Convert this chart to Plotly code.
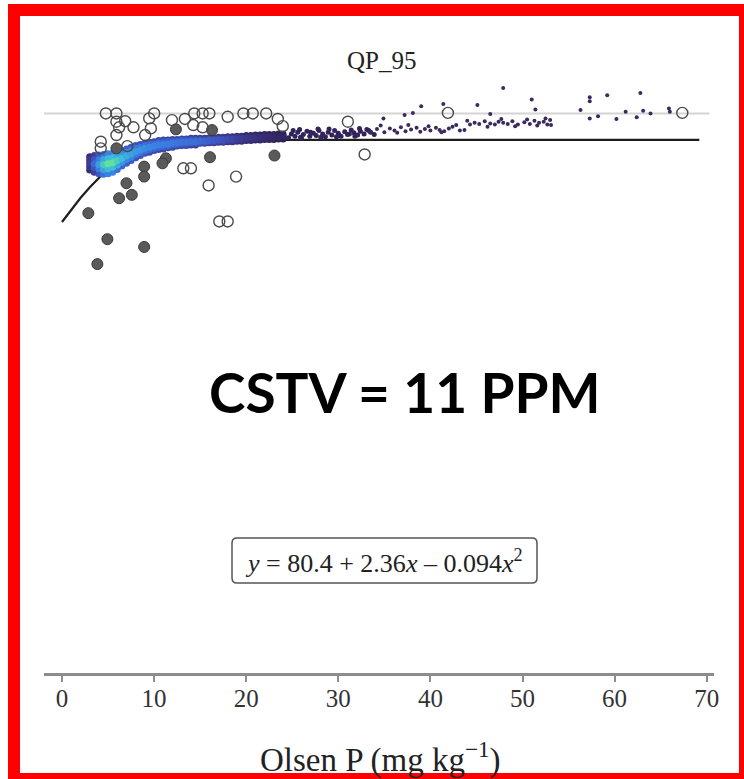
import plotly.graph_objects as go

# ---------------- data ----------------
title_text = "QP_95"
x_title = "Olsen P (mg kg<sup>−1</sup>)"
equation = "<i>y</i> = 80.4 + 2.36<i>x</i> – 0.094<i>x</i><sup>2</sup>"
cstv_text = "CSTV = 11 PPM"
tick_vals = [0, 10, 20, 30, 40, 50, 60, 70]
tick_text = ["0", "10", "20", "30", "40", "50", "60", "70"]

# fitted quadratic-plateau curve (values of the printed equation, plateau 95.2)
fit_x = [0, 1, 2, 3, 4, 5, 6, 7, 8, 9, 10, 11, 12, 12.55, 69.2]
fit_y = [80.40, 82.67, 84.74, 86.63, 88.34, 89.85, 91.18, 92.31, 93.26, 94.03,
         94.60, 94.99, 95.18, 95.21, 95.21]

ref_level = 100.0
ref_x = [-1.95, 70.3]

# dense (bootstrap) cloud, five rows per column, with relative point density
band_x = [3.0, 3.5, 4.0, 4.5, 5.0, 5.5, 6.0, 6.5, 7.0, 7.5,
          8.0, 8.5, 9.0, 9.5, 10.0, 10.5, 11.0, 11.5, 12.0, 12.5,
          13.0, 13.5, 14.0, 14.5, 15.0, 15.5, 16.0, 16.5, 17.0, 17.5,
          18.0, 18.5, 19.0, 19.5, 20.0, 20.5, 21.0, 21.5, 22.0, 22.5,
          23.0, 23.5, 24.0]
band_lo = [89.8, 89.4, 89.1, 89.0, 89.1, 89.4, 89.9, 90.5, 91.0, 91.5,
           92.0, 92.4, 92.8, 93.0, 93.3, 93.5, 93.6, 93.8, 93.9, 94.1,
           94.2, 94.2, 94.3, 94.3, 94.6, 94.6, 94.7, 94.7, 94.8, 94.8,
           94.9, 94.9, 95.0, 95.0, 95.1, 95.1, 95.2, 95.2, 95.3, 95.3,
           95.3, 95.4, 95.4]
band_r2 = [90.4, 90.2, 90.0, 89.9, 90.0, 90.3, 90.7, 91.2, 91.7, 92.1,
           92.6, 92.9, 93.2, 93.5, 93.7, 93.9, 94.0, 94.1, 94.3, 94.4,
           94.5, 94.5, 94.6, 94.6, 94.8, 94.8, 94.9, 94.9, 95.0, 95.0,
           95.1, 95.1, 95.2, 95.2, 95.3, 95.3, 95.4, 95.4, 95.5, 95.5,
           95.5, 95.6, 95.6]
band_mid = [91.0, 90.9, 90.8, 90.8, 90.9, 91.1, 91.5, 91.9, 92.3, 92.7,
            93.1, 93.4, 93.7, 93.9, 94.1, 94.3, 94.4, 94.5, 94.6, 94.7,
            94.8, 94.8, 94.9, 94.9, 95.0, 95.0, 95.1, 95.1, 95.2, 95.2,
            95.3, 95.3, 95.4, 95.4, 95.5, 95.5, 95.6, 95.6, 95.7, 95.7,
            95.7, 95.8, 95.8]
band_r4 = [91.6, 91.7, 91.6, 91.7, 91.8, 92.0, 92.3, 92.6, 93.0, 93.3,
           93.7, 93.9, 94.2, 94.4, 94.5, 94.7, 94.8, 94.9, 95.0, 95.0,
           95.1, 95.1, 95.2, 95.2, 95.2, 95.2, 95.3, 95.3, 95.4, 95.4,
           95.5, 95.5, 95.6, 95.6, 95.7, 95.7, 95.8, 95.8, 95.9, 95.9,
           95.9, 96.0, 96.0]
band_hi = [92.2, 92.4, 92.5, 92.6, 92.7, 92.8, 93.1, 93.3, 93.6, 93.9,
           94.2, 94.4, 94.6, 94.8, 94.9, 95.1, 95.2, 95.2, 95.3, 95.3,
           95.4, 95.4, 95.5, 95.5, 95.5, 95.5, 95.6, 95.6, 95.7, 95.7,
           95.8, 95.8, 95.9, 95.9, 96.0, 96.0, 96.1, 96.1, 96.2, 96.2,
           96.2, 96.3, 96.3]
band_dens = [0.3, 0.5, 0.7, 0.88, 1.0, 1.0, 0.9, 0.82, 0.76, 0.72,
             0.68, 0.66, 0.64, 0.62, 0.6, 0.59, 0.58, 0.57, 0.56, 0.55,
             0.54, 0.53, 0.52, 0.51, 0.5, 0.48, 0.46, 0.44, 0.42, 0.4,
             0.37, 0.34, 0.31, 0.28, 0.25, 0.23, 0.21, 0.19, 0.17, 0.15,
             0.13, 0.11, 0.1]

# thinning tail of the cloud
tail_x = [24.6, 24.9, 25.3, 25.6, 25.9, 26.2, 26.6, 26.9, 27.3, 27.6,
          27.9, 28.3, 28.6, 28.9, 29.3, 29.6, 30.0, 30.3, 30.7, 31.0,
          31.4, 31.7, 32.1, 32.4, 32.8, 33.1, 33.5, 33.9,
          25.1, 26.0, 27.0, 28.1, 29.0, 30.1, 31.2, 32.3, 33.3,
          25.8, 27.8, 29.8, 31.8]
tail_y = [95.6, 96.3, 95.9, 96.6, 95.7, 96.2, 96.8, 95.9, 96.4, 96.0,
          96.9, 96.3, 95.8, 96.6, 96.1, 96.9, 96.4, 95.9, 96.7, 96.2,
          97.0, 96.5, 96.1, 96.8, 96.3, 97.1, 96.6, 96.2,
          96.9, 95.5, 96.6, 95.7, 97.2, 96.0, 96.3, 97.3, 96.9,
          97.1, 97.2, 95.8, 95.9]

# sparse cloud points
sparse_x = [47.9, 51.0, 39.0, 41.4, 45.1, 57.3, 57.3, 59.2, 62.8, 56.3,
            51.4, 46.5, 37.2, 38.1, 34.9, 63.1, 61.2, 57.3, 58.2, 60.2,
            62.4, 63.9, 65.9, 66.0,
            33.5, 34.2, 35.0, 35.6, 36.1, 36.8, 37.3, 37.9, 38.5, 38.9,
            39.4, 40.0, 40.6, 41.0, 41.5, 42.0, 42.4, 43.2, 44.3, 44.8,
            45.3, 45.9, 46.5, 47.0, 47.4, 47.9, 48.4, 48.9, 49.5, 50.2,
            50.8, 51.3, 51.8, 52.3, 52.7, 53.0,
            34.6, 36.4, 37.6, 39.8, 41.2, 42.8, 43.7, 44.0, 46.2, 47.7,
            49.2, 50.5, 51.6, 52.5, 53.1]
sparse_y = [104.6, 102.5, 101.3, 101.7, 101.5, 102.9, 102.2, 103.3, 103.7, 100.6,
            100.7, 99.9, 99.7, 100.1, 99.1, 100.5, 100.3, 99.1, 99.5, 99.0,
            99.3, 100.0, 100.9, 100.3,
            96.7, 97.2, 96.6, 97.3, 96.9, 97.5, 96.8, 97.1, 97.4, 96.7,
            97.2, 96.9, 97.4, 97.0, 96.8, 97.3, 97.6, 96.9, 98.0, 98.3,
            98.1, 98.6, 98.2, 98.0, 98.5, 98.3, 98.1, 98.6, 98.0, 98.4,
            98.1, 98.7, 98.3, 98.5, 98.0, 98.8,
            97.8, 96.5, 97.9, 97.7, 96.6, 97.9, 97.0, 98.7, 97.6, 99.0,
            97.7, 98.9, 97.8, 99.1, 97.9]

# observed points: open circles and filled circles
open_x = [4.76, 5.91, 6.86, 7.76, 6.2, 5.91, 9.47, 10.01, 9.65, 9.03,
          11.94, 13.35, 14.36, 15.27, 16.0, 14.25, 15.27, 17.99, 19.7, 20.71,
          22.17, 23.43, 23.97, 4.21, 4.21, 5.91, 7.1, 13.17, 14.0, 18.9,
          15.92, 17.08, 17.99, 32.86, 31.04, 41.9, 67.35]
open_y = [100.0, 100.0, 98.6, 97.5, 97.5, 98.5, 99.1, 100.0, 97.3, 96.1,
          98.8, 99.0, 100.0, 100.0, 100.0, 97.9, 97.5, 99.4, 100.0, 100.0,
          100.0, 99.0, 97.7, 94.9, 93.7, 96.1, 94.1, 90.1, 90.1, 88.6,
          87.0, 80.5, 80.5, 92.6, 98.5, 100.1, 100.1]
filled_x = [12.37, 16.29, 5.91, 11.28, 10.91, 8.92, 8.92, 7.0, 7.58, 6.2,
            2.86, 4.93, 8.92, 3.84, 16.07, 23.07]
filled_y = [97.13, 97.0, 93.7, 91.9, 91.0, 90.4, 88.6, 87.4, 85.3, 84.7,
            82.0, 77.3, 75.9, 72.8, 92.1, 92.4]

for arr in (band_lo, band_r2, band_mid, band_r4, band_hi, band_dens):
    assert len(arr) == len(band_x)
assert len(tail_x) == len(tail_y)
assert len(sparse_x) == len(sparse_y)
assert len(open_x) == len(open_y)
assert len(filled_x) == len(filled_y)

# ---------------- figure ----------------
W, H = 744, 779
ML, MR, MT, MB = 44, 30, 70, 106
PW, PH = W - ML - MR, H - MT - MB


def px(x):
    return (x - ML) / PW


def py(y):
    return (H - MB - y) / PH


serif = "Liberation Serif, Times New Roman, serif"
cscale = [[0.0, "#2a1b4a"], [0.15, "#362a6c"], [0.3, "#3d3d97"],
          [0.45, "#3d5cca"], [0.6, "#3a83e4"], [0.8, "#3cb8dc"], [1.0, "#5fe2a0"]]

fig = go.Figure()

# fit curve
fig.add_trace(go.Scatter(x=fit_x, y=fit_y, mode="lines",
                         line=dict(color="#1e1e1e", width=2.2), hoverinfo="skip"))

# dense cloud rows
for row, k in ((band_lo, 0.6), (band_hi, 0.6), (band_r2, 0.82), (band_r4, 0.82), (band_mid, 1.0)):
    fig.add_trace(go.Scatter(
        x=band_x, y=row, mode="markers",
        marker=dict(size=7, color=[d * k for d in band_dens], colorscale=cscale,
                    cmin=0, cmax=1, line=dict(width=0)),
        hoverinfo="skip"))

# thinning tail and sparse cloud
fig.add_trace(go.Scatter(x=tail_x, y=tail_y, mode="markers",
                         marker=dict(size=5, color="#32235a"), hoverinfo="skip"))
fig.add_trace(go.Scatter(x=sparse_x, y=sparse_y, mode="markers",
                         marker=dict(size=4, color="#3a2a5e"), hoverinfo="skip"))

# observed points
fig.add_trace(go.Scatter(x=filled_x, y=filled_y, mode="markers",
                         marker=dict(size=11, color="#5a5a5a",
                                     line=dict(color="#3a3a3a", width=1))))
fig.add_trace(go.Scatter(x=open_x, y=open_y, mode="markers",
                         marker=dict(symbol="circle-open", size=11, color="#4a4a4a",
                                     line=dict(width=1.4))))

shapes = [
    dict(type="line", xref="x", yref="y", x0=ref_x[0], x1=ref_x[1], y0=ref_level, y1=ref_level,
         line=dict(color="#d4d4d4", width=2), layer="below"),
]

# rounded equation box
bx0, bx1, by0, by1 = px(232), px(537), py(583), py(538)
rx, ry = 5 / PW, 5 / PH
path = (f"M {bx0+rx},{by0} L {bx1-rx},{by0} Q {bx1},{by0} {bx1},{by0+ry} "
        f"L {bx1},{by1-ry} Q {bx1},{by1} {bx1-rx},{by1} L {bx0+rx},{by1} "
        f"Q {bx0},{by1} {bx0},{by1-ry} L {bx0},{by0+ry} Q {bx0},{by0} {bx0+rx},{by0} Z")
shapes.append(dict(type="path", xref="paper", yref="paper", path=path,
                   line=dict(color="#555555", width=1.5), fillcolor="rgba(255,255,255,0)"))

# red frame
red = "#ff0000"
for (x0, x1, y0, y1) in ((8, 20, 4, 790), (8, 760, 4, 16), (739, 760, 4, 790), (8, 760, 773, 790)):
    shapes.append(dict(type="rect", xref="paper", yref="paper",
                       x0=px(x0), x1=px(x1), y0=py(y1), y1=py(y0),
                       fillcolor=red, line=dict(width=0), layer="above"))

annotations = [
    dict(text=title_text, xref="paper", yref="paper", x=px(381), y=py(61),
         showarrow=False, font=dict(family=serif, size=25, color="#222222"),
         xanchor="center", yanchor="middle"),
    dict(text=equation, xref="paper", yref="paper", x=px(384.5), y=py(561),
         showarrow=False, font=dict(family=serif, size=26, color="#222222"),
         xanchor="center", yanchor="middle"),
    dict(text="<b>" + cstv_text + "</b>", xref="paper", yref="paper", x=px(405), y=py(392),
         showarrow=False, font=dict(family="Lato, Open Sans, sans-serif", size=55, color="#000000"),
         xanchor="center", yanchor="middle"),
    dict(text=x_title, xref="paper", yref="paper", x=px(380), y=py(757),
         showarrow=False, font=dict(family=serif, size=33, color="#222222"),
         xanchor="center", yanchor="middle"),
]

fig.update_layout(
    width=W, height=H,
    margin=dict(l=ML, r=MR, t=MT, b=MB, pad=0),
    paper_bgcolor="white", plot_bgcolor="white",
    showlegend=False,
    shapes=shapes, annotations=annotations,
    xaxis=dict(range=[-1.954, 70.793], showgrid=False, zeroline=False,
               showline=True, linecolor="#8c8c8c", linewidth=2.5,
               ticks="outside", ticklen=6, tickwidth=1.5, tickcolor="#8c8c8c",
               tickvals=tick_vals, ticktext=tick_text, ticklabelstandoff=-5,
               tickfont=dict(family=serif, size=25, color="#333333")),
    yaxis=dict(range=[-1.01, 107.84], visible=False, showgrid=False, zeroline=False),
)

fig.write_html("out.html", config={"displayModeBar": False},
               post_script="document.body.style.margin='0px';document.body.style.overflow='hidden';")
